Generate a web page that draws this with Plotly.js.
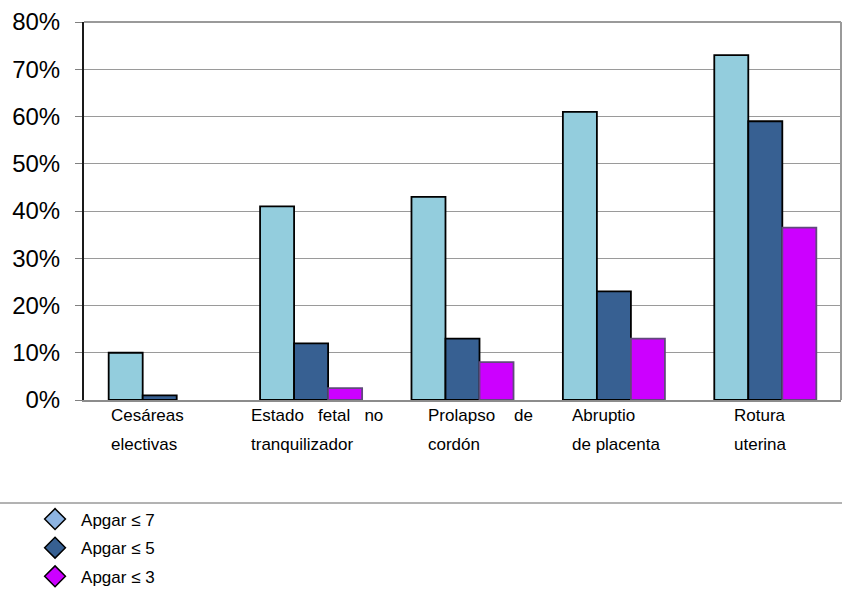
<!DOCTYPE html>
<html>
<head>
<meta charset="utf-8">
<script src="https://cdn.plot.ly/plotly-3.0.1.min.js"></script>
<style>
  html, body { margin: 0; padding: 0; background: #ffffff; }
  #chart { width: 842px; height: 589px; }
</style>
</head>
<body>
<div id="chart"></div>
<script>
// Categories (two text lines each, drawn under the axis)
const categories = ['Cesáreas electivas', 'Estado fetal no tranquilizador', 'Prolapso de cordón', 'Abruptio de placenta', 'Rotura uterina'];
const labelLine1 = ['Cesáreas', 'Estado\u00a0\u00a0\u00a0fetal\u00a0\u00a0\u00a0no', 'Prolapso\u00a0\u00a0\u00a0\u00a0de', 'Abruptio', 'Rotura'];
const labelLine2 = ['electivas', 'tranquilizador', 'cordón', 'de placenta', 'uterina'];

// Percentage of newborns per Apgar threshold
const seriesNames = ['Apgar ≤ 7', 'Apgar ≤ 5', 'Apgar ≤ 3'];
const apgar7 = [10, 41, 43, 61, 73];
const apgar5 = [1, 12, 13, 23, 59];
const apgar3 = [null, 2.5, 8, 13, 36.5];

// Y axis ticks
const yTickVals = [0, 10, 20, 30, 40, 50, 60, 70, 80];
const yTickText = ['0%', '10%', '20%', '30%', '40%', '50%', '60%', '70%', '80%'];

// Styling
const FONT = '"Liberation Sans", Arial, sans-serif';
const barFill = ['#93CDDD', '#376092', '#CC00FF'];
const barEdge = ['#000000', '#000000', '#604A7B'];
const legendFill = ['#8DB4E2', '#376092', '#CC00FF'];
const labelShift = [-50.7, -62, -36.5, -44, -33.6];

const seriesValues = [apgar7, apgar5, apgar3];

const traces = seriesValues.map((vals, i) => ({
  type: 'bar',
  name: seriesNames[i],
  x: categories,
  y: vals,
  marker: { color: barFill[i], line: { color: barEdge[i], width: 1.8 } },
  showlegend: false,
  hoverinfo: 'x+y'
}));

// Legend entries drawn as diamonds
seriesNames.forEach((name, i) => {
  traces.push({
    type: 'scatter',
    mode: 'markers',
    name: name,
    x: [null],
    y: [null],
    legendgroup: 'g' + i,
    marker: { symbol: 'diamond', size: 16, color: legendFill[i], line: { color: '#000000', width: 1.5 } },
    showlegend: true
  });
});

const annotations = [];
categories.forEach((c, i) => {
  annotations.push({
    x: c, xref: 'x', y: 0, yref: 'y',
    text: labelLine1[i], showarrow: false,
    xanchor: 'left', yanchor: 'middle',
    xshift: labelShift[i], yshift: -15,
    font: { family: FONT, size: 17, color: '#000000' }
  });
  annotations.push({
    x: c, xref: 'x', y: 0, yref: 'y',
    text: labelLine2[i], showarrow: false,
    xanchor: 'left', yanchor: 'middle',
    xshift: labelShift[i], yshift: -44,
    font: { family: FONT, size: 17, color: '#000000' }
  });
});

const layout = {
  width: 842,
  height: 589,
  margin: { l: 84, r: 1, t: 22, b: 189, autoexpand: false },
  paper_bgcolor: '#ffffff',
  plot_bgcolor: '#ffffff',
  font: { family: FONT, color: '#000000' },
  barmode: 'group',
  bargap: 0.326,
  bargroupgap: 0,
  xaxis: {
    type: 'category',
    showticklabels: false,
    ticks: '',
    showgrid: false,
    showline: true,
    linecolor: '#8c8c8c',
    linewidth: 2,
    zeroline: false,
    fixedrange: true
  },
  yaxis: {
    range: [0, 80],
    tickvals: yTickVals,
    ticktext: yTickText,
    tickfont: { family: FONT, size: 24, color: '#000000' },
    ticks: 'outside',
    ticklen: 7,
    tickcolor: '#808080',
    ticklabelstandoff: 10,
    showgrid: true,
    gridcolor: '#9a9a9a',
    gridwidth: 1,
    showline: true,
    linecolor: '#1a1a1a',
    linewidth: 2,
    zeroline: false,
    fixedrange: true
  },
  shapes: [
    // top and right frame of the plotting area
    { type: 'line', xref: 'paper', yref: 'paper', x0: 0, x1: 1, y0: 1, y1: 1, line: { color: '#9a9a9a', width: 2 } },
    { type: 'line', xref: 'paper', yref: 'paper', x0: 1, x1: 1, y0: 0, y1: 1, line: { color: '#9a9a9a', width: 2 } },
    // rule above the legend
    { type: 'line', xref: 'paper', yref: 'paper', x0: -0.12, x1: 1.01, y0: -0.2725, y1: -0.2725, line: { color: '#666666', width: 1 } }
  ],
  annotations: annotations,
  showlegend: true,
  legend: {
    x: -0.0726,
    xanchor: 'left',
    y: -0.2686,
    yanchor: 'top',
    orientation: 'v',
    itemwidth: 42,
    tracegroupgap: 3.5,
    font: { family: FONT, size: 17, color: '#000000' },
    bgcolor: 'rgba(0,0,0,0)',
    borderwidth: 0
  }
};

Plotly.newPlot('chart', traces, layout, { displayModeBar: false, staticPlot: true });
</script>
</body>
</html>
